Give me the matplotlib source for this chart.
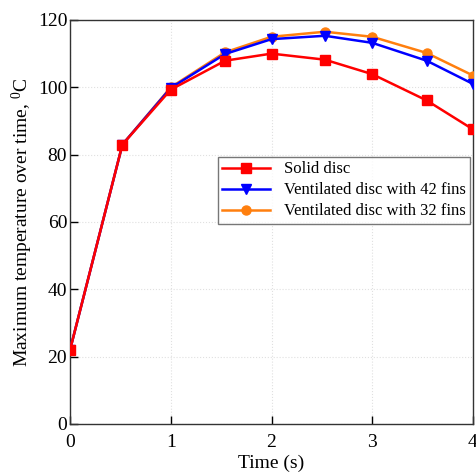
import matplotlib
matplotlib.use("Agg")
import matplotlib.pyplot as plt

time = [0, 0.52, 1, 1.54, 2, 2.53, 3, 3.54, 4]
solid = [22, 83, 99.3, 107.9, 110.0, 108.2, 103.9, 96.1, 87.5]
fins42 = [22, 83, 99.8, 109.9, 114.3, 115.3, 113.2, 107.9, 101.0]
fins32 = [22, 83, 100.0, 110.4, 115.0, 116.5, 115.0, 110.2, 103.5]
labels = ["Solid disc", "Ventilated disc with 42 fins", "Ventilated disc with 32 fins"]

plt.rcParams['font.family'] = ['Liberation Serif', 'DejaVu Serif']
plt.rcParams['mathtext.fontset'] = 'custom'
plt.rcParams['mathtext.rm'] = 'Liberation Serif'
fig = plt.figure(figsize=(4.77, 4.75), dpi=100)
ax = fig.add_axes([0.1468, 0.1074, 0.8448, 0.8506])

ax.plot(time, fins32, color='#ff7f0e', marker='o', markersize=6.5, lw=1.8, label=labels[2], zorder=3)
ax.plot(time, fins42, color='#0000ff', marker='v', markersize=6.5, lw=1.8, label=labels[1], zorder=4)
ax.plot(time, solid, color='#ff0000', marker='s', markersize=6.5, lw=1.8, label=labels[0], zorder=5)

ax.set_xlim(0, 4)
ax.set_ylim(0, 120)
ax.set_xticks([0, 1, 2, 3, 4])
ax.set_yticks([0, 20, 40, 60, 80, 100, 120])
ax.grid(True, color='#e0e0e0', linestyle=':', linewidth=0.8)
ax.tick_params(direction='in', labelsize=14, length=6, width=1, top=False, right=False)
ax.tick_params(axis='x', pad=7)
ax.tick_params(axis='y', pad=2)
for s in ax.spines.values():
    s.set_linewidth(1.0)
    s.set_color('#333333')
ax.set_xlabel("Time (s)", fontsize=14, labelpad=3)
ax.set_ylabel("Maximum temperature over time, $\\mathregular{^{0}}$C", fontsize=14, labelpad=2)

h, l = ax.get_legend_handles_labels()
leg = ax.legend(h[::-1], l[::-1], loc='upper left', bbox_to_anchor=(0.367, 0.66),
                fontsize=12, frameon=True, fancybox=False, edgecolor='#555555',
                borderpad=0.25, handlelength=2.9, labelspacing=0.3, handletextpad=0.8,
                borderaxespad=0)
leg.get_frame().set_linewidth(1.0)

fig.savefig("out.png", dpi=100)
